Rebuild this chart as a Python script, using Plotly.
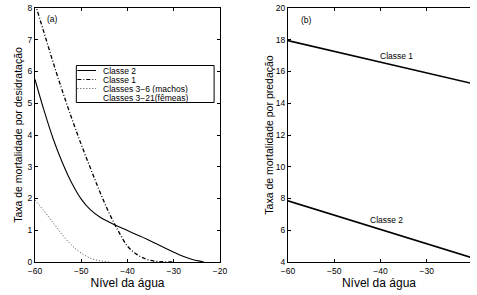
import plotly.graph_objects as go

# ---- data (a): mortality by desiccation ----
classe2_x = [-60, -58, -56, -54, -52, -50, -48, -46, -44, -42, -40, -38, -36, -34, -32, -30, -28, -26, -24, -23.5]
classe2_y = [5.75, 4.75, 3.85, 3.1, 2.47, 1.98, 1.64, 1.42, 1.26, 1.12, 0.99, 0.86, 0.73, 0.59, 0.45, 0.31, 0.18, 0.08, 0.015, 0]

classe1_x = [-60, -58, -56, -54, -52, -50, -48, -46, -44, -42, -40, -38, -36, -34, -32, -30]
classe1_y = [8.15, 7.2, 6.25, 5.35, 4.5, 3.7, 2.95, 2.22, 1.55, 0.98, 0.5, 0.24, 0.09, 0.025, 0.003, 0]

classe36_x = [-60, -58, -56, -54, -52, -50, -48, -46, -44]
classe36_y = [1.95, 1.6, 1.22, 0.84, 0.52, 0.28, 0.12, 0.04, 0]

# ---- data (b): mortality by predation ----
pred_x = [-60, -20]
pred_classe1 = [17.95, 15.23]
pred_classe2 = [7.85, 4.25]

legend_labels = ["Classe 2", "Classe 1", "Classes 3\u22126 (machos)", "Classes 3\u221221(fêmeas)"]

FONT = "Liberation Sans, Arial, Helvetica, sans-serif"

fig = go.Figure()
fig.add_trace(go.Scatter(x=classe2_x, y=classe2_y, mode="lines", line=dict(color="black", width=1.1, shape="spline"),
                         name=legend_labels[0], showlegend=False, xaxis="x", yaxis="y"))
fig.add_trace(go.Scatter(x=classe1_x, y=classe1_y, mode="lines",
                         line=dict(color="black", width=1.3, dash="4px,2px,1px,2px", shape="spline"),
                         name=legend_labels[1], showlegend=False, xaxis="x", yaxis="y"))
fig.add_trace(go.Scatter(x=classe36_x, y=classe36_y, mode="lines",
                         line=dict(color="#444", width=1, dash="1px,2px", shape="spline"),
                         name=legend_labels[2], showlegend=False, xaxis="x", yaxis="y"))

fig.add_trace(go.Scatter(x=pred_x, y=pred_classe1, mode="lines", line=dict(color="black", width=1.6),
                         name="Classe 1", showlegend=False, xaxis="x2", yaxis="y2"))
fig.add_trace(go.Scatter(x=pred_x, y=pred_classe2, mode="lines", line=dict(color="black", width=1.6),
                         name="Classe 2", showlegend=False, xaxis="x2", yaxis="y2"))

axis_common = dict(showline=True, linecolor="black", linewidth=1, ticks="inside", ticklen=3,
                   tickcolor="black", tickwidth=1, showgrid=False, zeroline=False,
                   tickfont=dict(family=FONT, size=8.5, color="black"))

fig.update_layout(
    width=477, height=295,
    margin=dict(l=35, r=0, t=8, b=33),
    paper_bgcolor="white", plot_bgcolor="white",
    font=dict(family=FONT, color="black"),
    xaxis=dict(domain=[0, 0.4253], range=[-60, -20], dtick=10, mirror="ticks", anchor="y",
               ticklabelstandoff=1,
               title=dict(text="Nível da água", font=dict(size=12), standoff=3), **axis_common),
    yaxis=dict(domain=[0, 1], range=[0, 8], dtick=1, mirror="ticks", anchor="x",
               title=dict(text="Taxa de mortalidade por desidratação", font=dict(size=10.5), standoff=2),
               **axis_common),
    xaxis2=dict(domain=[0.5814, 1.0], range=[-60, -20.64], dtick=10, mirror="ticks", anchor="y2",
                ticklabelstandoff=1,
                title=dict(text="Nível da água", font=dict(size=12), standoff=3), **axis_common),
    yaxis2=dict(domain=[0, 1], range=[4, 20], dtick=2, anchor="x2",
                title=dict(text="Taxa de mortalidade por predação", font=dict(size=10.5), standoff=0),
                **axis_common),
)

# panel labels
fig.add_annotation(x=-56.2, y=7.66, xref="x", yref="y", text="(a)", showarrow=False,
                   font=dict(size=8.5, family=FONT))
fig.add_annotation(x=-56.0, y=19.24, xref="x2", yref="y2", text="(b)", showarrow=False,
                   font=dict(size=8.5, family=FONT))
fig.add_annotation(x=-36.6, y=16.95, xref="x2", yref="y2", text="Classe 1", showarrow=False,
                   font=dict(size=8.5, family=FONT))
fig.add_annotation(x=-38.7, y=6.67, xref="x2", yref="y2", text="Classe 2", showarrow=False,
                   font=dict(size=8.5, family=FONT))

# manual compact legend (panel a)
def px_x(px):
    return (px - 35) / 442.0

def px_y(py):
    return (262 - py) / 254.0

fig.add_shape(type="rect", xref="paper", yref="paper", x0=px_x(77), x1=px_x(217), y0=px_y(102.5), y1=px_y(65.5),
              line=dict(color="black", width=1), fillcolor="white", layer="above")
legend_rows = [70.5, 79.5, 88.5, 97.5]
legend_dash = ["solid", "4px,2px,1px,2px", "1px,2px", None]
legend_color = ["black", "black", "#444", None]
for lab, ry, dsh, col in zip(legend_labels, legend_rows, legend_dash, legend_color):
    if dsh is not None:
        fig.add_shape(type="line", xref="paper", yref="paper", x0=px_x(78), x1=px_x(97), y0=px_y(ry), y1=px_y(ry),
                      line=dict(color=col, width=1, dash=dsh), layer="above")
    fig.add_annotation(x=px_x(103), y=px_y(ry), xref="paper", yref="paper", text=lab, showarrow=False,
                       xanchor="left", yanchor="middle", borderpad=0, height=9,
                       font=dict(size=8.5, family=FONT))

fig.write_html("out.html", config={"displayModeBar": False},
               post_script="document.body.style.margin='0px';")
